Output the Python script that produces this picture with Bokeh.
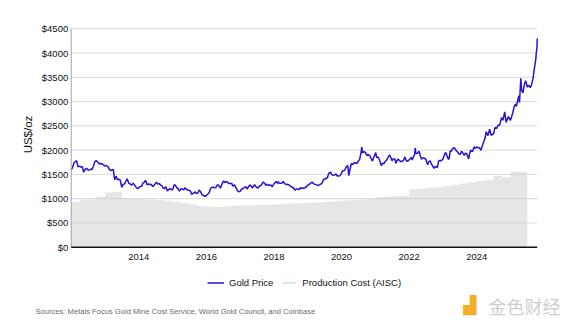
import numpy as np
import pandas as pd
from bokeh.plotting import figure
from bokeh.models import Range1d, Legend, LegendItem, Label
from bokeh.core.properties import value
from bokeh.embed import file_html
from bokeh.resources import INLINE

FONT = "Liberation Sans"

# ---------------- data ----------------
gold_date = [
    "2012-01-02", "2012-01-15", "2012-02-01", "2012-02-28", "2012-03-15", "2012-04-01", "2012-04-15", "2012-05-01",
    "2012-05-15", "2012-06-01", "2012-06-15", "2012-07-01", "2012-07-15", "2012-08-01", "2012-08-15", "2012-09-01",
    "2012-09-15", "2012-10-01", "2012-10-15", "2012-11-01", "2012-11-15", "2012-12-01", "2012-12-15",
    "2013-01-01", "2013-01-15", "2013-02-01", "2013-02-15", "2013-03-01", "2013-03-15", "2013-04-01", "2013-04-15",
    "2013-05-01", "2013-05-15", "2013-06-01", "2013-06-15", "2013-07-01", "2013-07-15", "2013-08-01", "2013-08-28",
    "2013-09-15", "2013-10-01", "2013-10-15", "2013-11-01", "2013-11-15", "2013-12-01", "2013-12-20",
    "2014-01-01", "2014-01-15", "2014-02-01", "2014-02-15", "2014-03-01", "2014-03-15", "2014-04-01", "2014-04-15",
    "2014-05-01", "2014-05-15", "2014-06-01", "2014-06-15", "2014-07-10", "2014-07-25", "2014-08-10", "2014-08-25",
    "2014-09-05", "2014-09-20", "2014-10-05", "2014-10-20", "2014-11-05", "2014-11-20", "2014-12-05", "2014-12-20",
    "2015-01-01", "2015-01-20", "2015-02-01", "2015-02-15", "2015-03-01", "2015-03-15", "2015-04-01", "2015-04-15",
    "2015-05-01", "2015-05-15", "2015-06-01", "2015-06-15", "2015-07-01", "2015-07-15", "2015-07-25", "2015-08-15",
    "2015-09-01", "2015-09-15", "2015-10-01", "2015-10-15", "2015-11-01", "2015-11-15", "2015-12-01", "2015-12-17",
    "2016-01-01", "2016-01-15", "2016-02-01", "2016-02-15", "2016-03-01", "2016-03-15", "2016-04-01", "2016-04-15",
    "2016-05-01", "2016-05-15", "2016-06-01", "2016-06-15", "2016-07-06", "2016-07-20", "2016-08-01", "2016-08-15",
    "2016-09-01", "2016-09-15", "2016-10-01", "2016-10-15", "2016-11-01", "2016-11-15", "2016-12-01", "2016-12-15",
    "2017-01-01", "2017-01-15", "2017-02-01", "2017-02-15", "2017-03-01", "2017-03-15", "2017-04-01", "2017-04-15",
    "2017-05-01", "2017-05-10", "2017-06-06", "2017-06-20", "2017-07-01", "2017-07-10", "2017-08-01", "2017-08-15",
    "2017-09-08", "2017-09-20", "2017-10-05", "2017-10-15", "2017-11-01", "2017-11-15", "2017-12-01", "2017-12-12",
    "2018-01-01", "2018-01-25", "2018-02-08", "2018-02-15", "2018-03-01", "2018-03-15", "2018-04-01", "2018-04-11",
    "2018-05-01", "2018-05-15", "2018-06-01", "2018-06-15", "2018-07-01", "2018-07-15", "2018-08-01", "2018-08-16",
    "2018-09-01", "2018-09-15", "2018-10-01", "2018-10-15", "2018-11-01", "2018-11-15", "2018-12-01", "2018-12-15",
    "2019-01-01", "2019-01-15", "2019-02-01", "2019-02-20", "2019-03-01", "2019-03-15", "2019-04-01", "2019-04-23",
    "2019-05-01", "2019-05-15", "2019-06-01", "2019-06-20", "2019-07-01", "2019-07-15", "2019-08-01", "2019-08-15",
    "2019-09-04", "2019-09-15", "2019-10-01", "2019-10-15", "2019-11-01", "2019-11-15", "2019-12-01", "2019-12-15",
    "2020-01-01", "2020-01-08", "2020-02-01", "2020-02-24", "2020-03-09", "2020-03-19", "2020-04-01", "2020-04-15",
    "2020-05-01", "2020-05-15", "2020-06-01", "2020-06-15", "2020-07-01", "2020-07-15", "2020-08-01", "2020-08-07",
    "2020-08-15", "2020-09-01", "2020-09-15", "2020-10-01", "2020-10-15", "2020-11-01", "2020-11-30", "2020-12-15",
    "2021-01-05", "2021-01-15", "2021-02-01", "2021-02-15", "2021-03-08", "2021-03-20", "2021-04-01", "2021-04-15",
    "2021-05-01", "2021-05-15", "2021-06-01", "2021-06-15", "2021-07-01", "2021-07-15", "2021-08-01", "2021-08-10",
    "2021-09-01", "2021-09-15", "2021-10-01", "2021-10-15", "2021-11-01", "2021-11-16", "2021-12-01", "2021-12-15",
    "2022-01-01", "2022-01-25", "2022-02-01", "2022-02-15", "2022-03-01", "2022-03-08", "2022-03-15", "2022-04-01",
    "2022-04-18", "2022-05-01", "2022-05-15", "2022-06-01", "2022-06-15", "2022-07-01", "2022-07-20", "2022-08-01",
    "2022-08-15", "2022-09-01", "2022-09-27", "2022-10-10", "2022-11-01", "2022-11-15", "2022-12-01", "2022-12-15",
    "2023-01-01", "2023-01-25", "2023-02-01", "2023-02-28", "2023-03-08", "2023-03-20", "2023-04-01", "2023-04-13",
    "2023-05-04", "2023-05-15", "2023-06-01", "2023-06-29", "2023-07-10", "2023-07-20", "2023-08-01", "2023-08-20",
    "2023-09-01", "2023-09-15", "2023-10-06", "2023-10-15", "2023-10-27", "2023-11-15", "2023-12-04", "2023-12-15",
    "2024-01-01", "2024-01-15", "2024-02-01", "2024-02-14", "2024-03-01", "2024-03-15", "2024-04-01", "2024-04-12",
    "2024-05-01", "2024-05-20", "2024-06-07", "2024-06-20", "2024-07-01", "2024-07-17", "2024-08-01", "2024-08-20",
    "2024-09-05", "2024-09-26", "2024-10-10", "2024-10-30", "2024-11-14", "2024-11-25", "2024-12-10", "2024-12-30",
    "2025-01-10", "2025-01-25", "2025-02-10", "2025-02-24", "2025-03-05", "2025-03-20", "2025-04-01", "2025-04-08",
    "2025-04-22", "2025-05-01", "2025-05-15", "2025-06-01", "2025-06-13", "2025-07-01", "2025-07-15", "2025-08-01",
    "2025-08-15", "2025-09-01", "2025-09-15", "2025-09-30", "2025-10-08", "2025-10-13", "2025-10-16",
]
gold_price = [
    1600, 1640, 1740, 1785, 1655, 1670, 1650, 1660, 1545, 1610, 1625, 1590, 1590, 1610, 1600, 1690,
    1770, 1780, 1750, 1715, 1725, 1715, 1695,
    1675, 1680, 1665, 1610, 1580, 1590, 1600, 1390, 1460, 1395, 1400, 1380, 1235, 1290, 1310, 1410,
    1320, 1300, 1275, 1320, 1285, 1240, 1205,
    1230, 1250, 1255, 1320, 1335, 1380, 1285, 1305, 1290, 1295, 1250, 1275, 1340, 1300, 1310, 1280,
    1270, 1220, 1210, 1245, 1160, 1190, 1205, 1185,
    1185, 1290, 1275, 1225, 1210, 1155, 1200, 1200, 1180, 1225, 1190, 1180, 1170, 1150, 1090, 1115,
    1140, 1105, 1115, 1180, 1140, 1080, 1065, 1050,
    1065, 1090, 1125, 1210, 1235, 1235, 1225, 1235, 1290, 1270, 1215, 1290, 1365, 1330, 1355, 1345,
    1310, 1315, 1315, 1255, 1285, 1225, 1175, 1140,
    1150, 1195, 1210, 1230, 1250, 1200, 1245, 1285, 1260, 1220, 1290, 1245, 1235, 1215, 1265, 1275,
    1345, 1320, 1275, 1300, 1275, 1280, 1275, 1245,
    1305, 1355, 1315, 1350, 1315, 1320, 1325, 1355, 1305, 1290, 1295, 1280, 1250, 1240, 1220, 1175,
    1200, 1200, 1190, 1225, 1215, 1215, 1225, 1240,
    1280, 1290, 1320, 1340, 1310, 1300, 1290, 1270, 1280, 1295, 1310, 1390, 1400, 1415, 1430, 1520,
    1550, 1500, 1480, 1485, 1510, 1465, 1465, 1475,
    1520, 1570, 1580, 1665, 1680, 1475, 1595, 1720, 1700, 1740, 1735, 1725, 1775, 1810, 1975, 2065,
    1945, 1970, 1955, 1890, 1905, 1890, 1775, 1855,
    1950, 1845, 1860, 1790, 1680, 1735, 1715, 1760, 1790, 1840, 1900, 1855, 1780, 1825, 1815, 1730,
    1815, 1795, 1760, 1770, 1790, 1860, 1780, 1770,
    1800, 1850, 1800, 1855, 1910, 2045, 1930, 1935, 1980, 1890, 1810, 1845, 1835, 1805, 1700, 1765,
    1780, 1705, 1625, 1665, 1640, 1775, 1785, 1780,
    1815, 1940, 1945, 1815, 1815, 1980, 1975, 2030, 2050, 2015, 1975, 1910, 1925, 1975, 1950, 1890,
    1940, 1925, 1820, 1920, 2000, 1965, 2070, 2035,
    2065, 2050, 2050, 1995, 2085, 2160, 2250, 2380, 2300, 2430, 2300, 2330, 2330, 2470, 2445, 2515,
    2515, 2670, 2615, 2790, 2570, 2630, 2690, 2610,
    2670, 2770, 2900, 2950, 2900, 3030, 3120, 2980, 3480, 3240, 3180, 3370, 3430, 3300, 3340, 3290,
    3340, 3480, 3680, 3860, 4040, 4110, 4300,
]

cost_start_quarter = "2012Q1"
production_cost_aisc = [
    930, 985, 990, 1040,      # 2012
    1125, 1140, 1010, 1000,   # 2013
    995, 990, 975, 955,       # 2014
    935, 905, 880, 850,       # 2015
    835, 830, 845, 860,       # 2016
    865, 865, 870, 875,       # 2017
    885, 895, 900, 905,       # 2018
    915, 925, 935, 945,       # 2019
    960, 975, 985, 1000,      # 2020
    1030, 1040, 1050, 1060,   # 2021
    1195, 1205, 1220, 1235,   # 2022
    1255, 1285, 1310, 1340,   # 2023
    1360, 1385, 1470, 1440,   # 2024
    1560, 1560,               # 2025
]

y_ticks = [0, 500, 1000, 1500, 2000, 2500, 3000, 3500, 4000, 4500]
x_ticks = [2014, 2016, 2018, 2020, 2022, 2024]

GOLD_COLOR = "#2a10d4"
AREA_COLOR = "#c8c8c8"
AREA_ALPHA = 0.45


def frac_year(ts):
    ts = pd.DatetimeIndex(ts)
    days = np.where(ts.is_leap_year, 366.0, 365.0)
    return np.asarray(ts.year + (ts.dayofyear - 1) / days, dtype=float)


gx = [float(v) for v in frac_year(pd.to_datetime(gold_date))]
quarters = pd.period_range(cost_start_quarter, periods=len(production_cost_aisc), freq="Q")
q_left = [float(v) for v in frac_year(quarters.start_time)]
q_end = float(frac_year([quarters[-1].end_time.normalize() + pd.Timedelta(days=1)])[0])
cx = q_left + [q_end]
cy = list(production_cost_aisc) + [production_cost_aisc[-1]]
c0 = [0] * len(cy)

# ---------------- geometry (canvas = frame) ----------------
W, H = 573, 327
PL, PR, PT, PB = 70.7, 536.7, 28.3, 246.7      # plot-area edges in canvas pixels
X0, X1 = 2012.0, gx[-1]
Y0, Y1 = y_ticks[0], y_ticks[-1]
kx = (PR - PL) / (X1 - X0)
ky = (PB - PT) / (Y1 - Y0)


def X(px):
    return X0 + (px - PL) / kx


def Y(py):
    return Y0 + (PB - py) / ky


p = figure(width=W, height=H, output_backend="svg", toolbar_location=None,
           x_range=Range1d(X(0), X(W)), y_range=Range1d(Y(H), Y(0)),
           min_border=0, x_axis_location=None, y_axis_location=None)
p.outline_line_color = None
p.xgrid.visible = False
p.ygrid.visible = False

# horizontal gridlines
gy = y_ticks[1:]
p.segment(x0=[X0] * len(gy), y0=gy, x1=[X1] * len(gy), y1=gy,
          line_color="#dadada", line_width=1)

area = p.varea_step(x=cx, y1=c0, y2=cy, step_mode="after",
                    fill_color=AREA_COLOR, fill_alpha=AREA_ALPHA)
line = p.line(gx, gold_price, line_color=GOLD_COLOR, line_width=1.5)

# axis lines
p.segment(x0=[X0], y0=[Y0], x1=[X0], y1=[Y1], line_color="#a0a0a0", line_width=1)
p.segment(x0=[X0], y0=[Y0], x1=[X1], y1=[Y0], line_color="#111111", line_width=1.5)

# tick labels
p.text(x=[X(PL - 3)] * len(y_ticks), y=y_ticks, text=["$%d" % t for t in y_ticks],
       text_font=value(FONT), text_font_size="9.5px", text_color="#111111",
       text_align="right", text_baseline="middle")
p.text(x=x_ticks, y=[Y(PB + 10)] * len(x_ticks), text=["%d" % t for t in x_ticks],
       text_font=value(FONT), text_font_size="9.5px", text_color="#111111",
       text_align="center", text_baseline="middle")

# axis title
p.add_layout(Label(x=X(27), y=Y(134), text="US$/oz", angle=np.pi / 2,
                   text_font=FONT, text_font_size="11.5px", text_color="#111111",
                   text_align="center", text_baseline="middle"))

legend = Legend(items=[LegendItem(label="Gold Price", renderers=[line]),
                       LegendItem(label="Production Cost (AISC)", renderers=[area])],
                orientation="horizontal", location=(207, 39),
                border_line_color=None, background_fill_alpha=0,
                glyph_width=17, glyph_height=3, label_height=3, label_standoff=5, spacing=7,
                margin=0, padding=0,
                label_text_font=FONT, label_text_font_size="9.5px",
                label_text_color="#111111")
p.add_layout(legend, "center")

p.add_layout(Label(x=X(35), y=Y(311), text="Sources: Metals Focus Gold Mine Cost Service, World Gold Council, and Coinbase",
                   text_font=FONT, text_font_size="7.6px", text_color="#6a6a6a",
                   text_baseline="middle", text_align="left"))
p.add_layout(Label(x=X(463), y=Y(304), text="▟",
                   text_font="DejaVu Sans", text_font_size="17px", text_color="#f2ae26",
                   text_baseline="middle", text_align="left"))
p.add_layout(Label(x=X(488), y=Y(305), text="金色财经",
                   text_font="Noto Sans CJK SC", text_font_size="18px", text_color="#cfcfcf",
                   text_baseline="middle", text_align="left"))

open("out.html", "w").write(file_html(p, INLINE))
